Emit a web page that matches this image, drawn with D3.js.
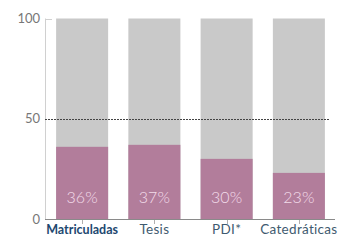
<!DOCTYPE html>
<html>
<head>
<meta charset="utf-8">
<script src="https://cdn.jsdelivr.net/npm/d3@7"></script>
<style>
  body { margin: 0; background: #fff; }
  svg { display: block; font-family: Lato, "Open Sans", sans-serif; }
</style>
</head>
<body>
<div id="chart"></div>
<script>
// Data
const categories = ["Matriculadas", "Tesis", "PDI*", "Catedráticas"];
const womenShare = [36, 37, 30, 23];
const yTicks = [0, 50, 100];

const width = 345, height = 243;

const svg = d3.select("#chart")
    .append("svg")
    .attr("width", width)
    .attr("height", height);

const x = d3.scaleBand()
    .domain(categories)
    .range([46, 335])
    .paddingInner(0.28)
    .paddingOuter(0.14);

const y = d3.scaleLinear()
    .domain([0, 100])
    .range([219, 18.5]);

// Left axis line
svg.append("line")
    .attr("x1", 45.5).attr("x2", 45.5)
    .attr("y1", y(100)).attr("y2", y(0))
    .attr("stroke", "#d0d0d0")
    .attr("stroke-width", 1);

// Y tick labels and short inner tick at the top
const yAxis = svg.append("g");
yAxis.selectAll("text")
    .data(yTicks)
    .enter()
    .append("text")
    .attr("x", 40)
    .attr("y", d => y(d))
    .attr("dy", "0.35em")
    .attr("text-anchor", "end")
    .attr("font-size", 13)
    .attr("fill", "#777")
    .text(d => d);

yAxis.selectAll("line")
    .data(yTicks.filter(d => d === 100))
    .enter()
    .append("line")
    .attr("x1", 45.5).attr("x2", 52)
    .attr("y1", d => Math.round(y(d)) + 0.5)
    .attr("y2", d => Math.round(y(d)) + 0.5)
    .attr("stroke", "#d0d0d0");

// Background (100%) bars
svg.selectAll(".bg")
    .data(categories)
    .enter()
    .append("rect")
    .attr("class", "bg")
    .attr("x", d => x(d))
    .attr("y", y(100))
    .attr("width", x.bandwidth())
    .attr("height", y(0) - y(100))
    .attr("fill", "#c9c9c9");

// Share bars
svg.selectAll(".bar")
    .data(womenShare)
    .enter()
    .append("rect")
    .attr("class", "bar")
    .attr("x", (d, i) => x(categories[i]))
    .attr("y", d => y(d))
    .attr("width", x.bandwidth())
    .attr("height", d => y(0) - y(d))
    .attr("fill", "#b27d9b");

// Percent labels
svg.selectAll(".pct")
    .data(womenShare)
    .enter()
    .append("text")
    .attr("class", "pct")
    .attr("x", (d, i) => x(categories[i]) + x.bandwidth() / 2)
    .attr("y", 203)
    .attr("text-anchor", "middle")
    .attr("font-size", 16)
    .attr("font-weight", 300)
    .attr("fill", "#f3dcea")
    .text(d => d + "%");

// 50% reference line
svg.append("line")
    .attr("x1", 45).attr("x2", 329)
    .attr("y1", Math.round(y(50)) + 0.5)
    .attr("y2", Math.round(y(50)) + 0.5)
    .attr("stroke", "#444")
    .attr("stroke-width", 1)
    .attr("stroke-dasharray", "2,1");

// Baseline
svg.append("line")
    .attr("x1", 45).attr("x2", 335)
    .attr("y1", Math.round(y(0)) + 0.5)
    .attr("y2", Math.round(y(0)) + 0.5)
    .attr("stroke", "#8a8a8a")
    .attr("stroke-width", 1);

// X ticks
svg.selectAll(".xtick")
    .data(categories)
    .enter()
    .append("line")
    .attr("class", "xtick")
    .attr("x1", d => Math.round(x(d) + x.bandwidth() / 2) + 0.5)
    .attr("x2", d => Math.round(x(d) + x.bandwidth() / 2) + 0.5)
    .attr("y1", y(0) + 1)
    .attr("y2", y(0) + 5)
    .attr("stroke", "#b0b0b0");

// X labels
svg.selectAll(".xlabel")
    .data(categories)
    .enter()
    .append("text")
    .attr("class", "xlabel")
    .attr("x", d => x(d) + x.bandwidth() / 2)
    .attr("y", 234)
    .attr("text-anchor", "middle")
    .attr("font-size", (d, i) => i === 0 ? 12.5 : 13.5)
    .attr("letter-spacing", (d, i) => i === 0 ? 0 : 0.3)
    .attr("font-weight", (d, i) => i === 0 ? 700 : 400)
    .attr("fill", (d, i) => i === 0 ? "#1d4870" : "#3f5b70")
    .text(d => d);
</script>
</body>
</html>
